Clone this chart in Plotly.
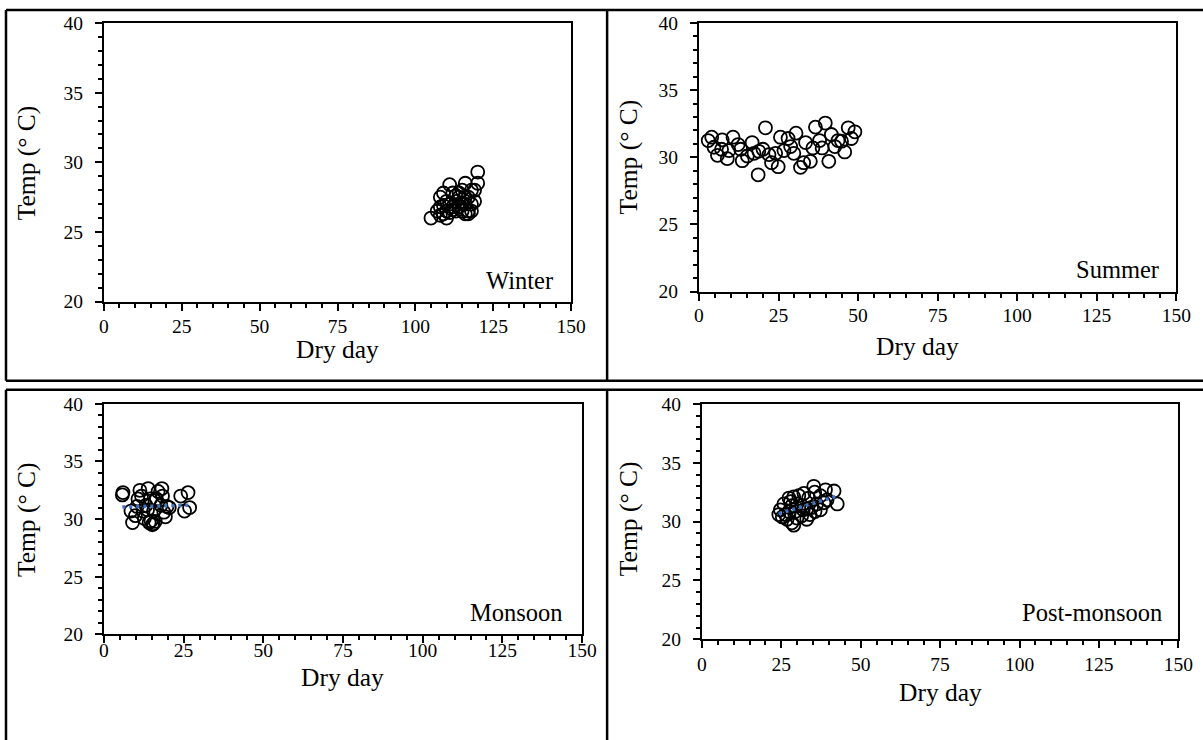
import numpy as np
import plotly.graph_objects as go

# ---------------- data ----------------
winter_x = [105, 107, 108, 108, 109, 110, 110, 111, 111, 112, 113, 114, 115, 115, 116, 116, 117, 117,
            118, 118, 119, 120, 120, 112, 114, 116, 113, 109, 108, 110, 117, 118, 115, 116, 119, 114,
            112, 109, 111, 113]
winter_y = [26.0, 26.5, 26.8, 27.5, 27.8, 26.0, 26.5, 27.0, 28.4, 26.8, 27.2, 27.8, 27.0, 28.0, 28.5,
            26.3, 27.5, 26.5, 27.0, 28.0, 28.0, 28.5, 29.3, 26.6, 26.8, 27.0, 26.5, 26.3, 26.2, 27.2,
            26.3, 26.5, 26.5, 27.5, 27.2, 27.5, 27.8, 26.9, 26.4, 27.6]

summer_x = [2.9, 4.0, 4.7, 5.8, 7.3, 7.1, 8.9, 9.4, 10.7, 12.3, 13.1, 13.6, 15.2, 16.7, 17.3, 18.8, 18.6,
            20.1, 20.9, 22.0, 22.8, 24.1, 24.9, 25.6, 26.7, 28.0, 28.8, 29.8, 30.5, 31.9, 32.9, 33.5,
            35.0, 35.8, 36.6, 37.9, 38.7, 39.7, 40.8, 41.6, 42.7, 43.7, 44.8, 45.8, 46.9, 47.9, 49.0]
summer_y = [31.25, 31.5, 30.75, 30.15, 31.3, 30.6, 29.9, 30.5, 31.5, 30.95, 30.6, 29.75, 30.1, 31.1,
            30.3, 30.45, 28.7, 30.6, 32.2, 30.2, 29.6, 30.3, 29.3, 31.5, 30.5, 31.4, 30.8, 30.3, 31.8,
            29.25, 29.6, 31.1, 29.7, 30.7, 32.25, 31.25, 30.7, 32.55, 29.7, 31.7, 30.8, 31.25, 31.2,
            30.4, 32.2, 31.4, 31.9]

monsoon_x = [5.8, 6.0, 9.0, 8.5, 9.9, 10.4, 10.7, 11.3, 11.8, 12.3, 13.2, 13.9, 14.6, 14.2, 14.8, 15.2,
             16.1, 15.6, 16.5, 17.0, 18.2, 17.9, 18.8, 19.3, 19.8, 18.4, 24.1, 26.4, 25.3, 26.9, 12.7,
             16.0, 13.7, 15.5, 20.5]
monsoon_y = [32.1, 32.3, 29.7, 30.7, 30.3, 31.1, 31.75, 32.5, 32.0, 30.7, 31.2, 32.65, 31.75, 29.7,
             29.85, 29.5, 29.8, 30.7, 31.75, 32.4, 32.65, 31.2, 30.6, 30.2, 31.1, 32.0, 32.0, 32.3,
             30.7, 31.0, 30.05, 31.6, 30.8, 29.6, 31.0]

post_x = [35.2, 35.5, 38.9, 41.6, 42.6, 39.4, 37.3, 38.4, 33.6, 32.1, 30.5, 28.9, 27.4, 25.8, 24.7,
          24.2, 25.3, 26.8, 28.3, 28.9, 29.9, 31.4, 33.0, 34.0, 35.6, 28.3, 29.9, 31.4, 33.0, 27.4,
          26.3, 29.4, 34.5, 36.1, 31.9, 27.9, 37.3]
post_y = [33.0, 32.5, 32.7, 32.6, 31.5, 31.85, 32.2, 31.6, 32.0, 32.4, 32.2, 32.1, 32.0, 31.5, 31.0,
          30.6, 30.4, 30.2, 29.9, 29.7, 30.3, 30.5, 30.2, 30.6, 30.85, 31.35, 31.5, 31.35, 31.1,
          30.85, 30.6, 30.85, 31.2, 31.5, 31.0, 31.7, 31.0]

season_names = ["Winter", "Summer", "Monsoon", "Post-monsoon"]
x_ticks = [0, 25, 50, 75, 100, 125, 150]
y_ticks = [20, 25, 30, 35, 40]

W, H = 1216, 753
FONT = "Liberation Serif"
# the photographed page maps page px -> picture px as  x*0.985+5 , y*0.97+9
SX, OX, SY, OY = 0.985, 5.0, 0.97, 9.0


def px(v):
    return ((v - OX) / SX) / W


def py(v):
    return 1 - ((v - OY) / SY) / H


fig = go.Figure()

# panel geometry in picture pixels: (left, right, top, bottom), x tick label standoff
panels = [
    (104, 572, 22, 300, -1),
    (700, 1178, 22, 290, -2),
    (104, 583, 402, 632, -10),
    (703, 1180, 402, 637, -1),
]
datasets = [(winter_x, winter_y, False), (summer_x, summer_y, False),
            (monsoon_x, monsoon_y, True), (post_x, post_y, True)]

for i, ((l, r, t, b, xs_off), (xs, ys, trend)) in enumerate(zip(panels, datasets)):
    n = "" if i == 0 else str(i + 1)
    xa, ya = "x" + n, "y" + n
    fig.add_trace(go.Scatter(
        x=xs, y=ys, mode="markers", xaxis=xa, yaxis=ya, showlegend=False,
        marker=dict(symbol="circle-open", size=13, color="black",
                    line=dict(width=1.8, color="black")),
    ))
    if trend:
        c = np.polyfit(xs, ys, 1)
        tx = [min(xs), max(xs)]
        ty = [c[0] * v + c[1] for v in tx]
        fig.add_trace(go.Scatter(
            x=tx, y=ty, mode="lines", xaxis=xa, yaxis=ya, showlegend=False,
            line=dict(color="#4472C4", width=3.5, dash="3px,4px"),
        ))
    axis_common = dict(showline=True, linecolor="black", linewidth=2, mirror=True,
                       ticks="outside", tickcolor="black", tickwidth=2, ticklen=7,
                       showgrid=False, zeroline=False,
                       tickfont=dict(family=FONT, size=19.5, color="black"))
    fig.layout["xaxis" + n] = dict(
        domain=[px(l), px(r)], anchor=ya, range=[0, 150], tickvals=x_ticks,
        ticklabelstandoff=xs_off,
        minor=dict(dtick=5, tick0=0, ticks="outside", ticklen=4, tickwidth=2, tickcolor="black"),
        **axis_common)
    fig.layout["yaxis" + n] = dict(
        domain=[py(b), py(t)], anchor=xa, range=[20, 40], tickvals=y_ticks,
        ticklabelstandoff=8,
        minor=dict(dtick=1, tick0=20, ticks="outside", ticklen=4, tickwidth=2, tickcolor="black"),
        **axis_common)

# axis titles and season labels as annotations
ann = []
ytitle_pos = [(26, 161), (629, 156), (26, 517), (629, 517)]
xtitle_pos = [(338, 348), (919, 345), (343, 675), (942, 690)]
label_pos = [(556, 279), (1163, 268), (566, 610), (1166, 610)]
for (yx, yy), (xx, xy), (lx, ly), name in zip(ytitle_pos, xtitle_pos, label_pos, season_names):
    ann.append(dict(text="Temp (° C)", x=px(yx), y=py(yy), xref="paper", yref="paper",
                    textangle=-90, showarrow=False, xanchor="center", yanchor="middle",
                    font=dict(family=FONT, size=25.5, color="black")))
    ann.append(dict(text="Dry day", x=px(xx), y=py(xy), xref="paper", yref="paper",
                    showarrow=False, xanchor="center", yanchor="middle",
                    font=dict(family=FONT, size=25.5, color="black")))
    ann.append(dict(text=name, x=px(lx), y=py(ly), xref="paper", yref="paper",
                    showarrow=False, xanchor="right", yanchor="middle",
                    font=dict(family=FONT, size=24.5, color="black")))

# panel borders
lw = 2.5
shapes = []


def seg(x0, y0, x1, y1):
    shapes.append(dict(type="line", xref="paper", yref="paper",
                       x0=px(x0), y0=py(y0), x1=px(x1), y1=py(y1),
                       line=dict(color="black", width=lw)))


seg(6, 9, 1210, 9)
seg(6, 9, 6, 379)
seg(6, 379, 1210, 379)
seg(608, 9, 608, 379)
seg(6, 388, 1210, 388)
seg(6, 388, 6, 745)
seg(608, 388, 608, 745)

fig.update_layout(
    width=W, height=H, margin=dict(l=0, r=0, t=0, b=0),
    paper_bgcolor="white", plot_bgcolor="white",
    annotations=ann, shapes=shapes,
)

pin = (
    "document.documentElement.style.margin='0px';"
    "document.documentElement.style.overflow='hidden';"
    "document.body.style.margin='0px';"
    "document.body.style.overflow='hidden';"
    "var gd=document.getElementById('{plot_id}');"
    "gd.style.position='fixed';gd.style.left='0px';gd.style.top='0px';"
)

fig.write_html("out.html", config={"displayModeBar": False}, post_script=pin)
